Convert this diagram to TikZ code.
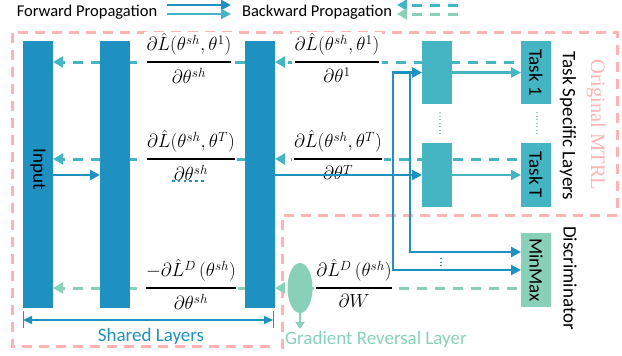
\documentclass[tikz,border=0pt]{standalone}
\usepackage{fix-cm}
\usepackage{amsmath}
\usepackage{fontspec}
\setmainfont{Carlito}
\newfontfamily\mtrlfont{Liberation Serif}
\usetikzlibrary{arrows.meta,shapes.geometric,calc}
\pgfdeclarelayer{back}
\pgfdeclarelayer{mid}
\pgfsetlayers{back,mid,main}
\definecolor{cblue}{HTML}{1F91C0}
\definecolor{cteal}{HTML}{45B5C4}
\definecolor{cgreen}{HTML}{88D1B8}
\definecolor{cpink}{HTML}{FFB3B3}
\newcommand\myfr[2]{\genfrac{}{}{1.8pt}{0}{#1}{#2}}
\begin{document}
\begin{tikzpicture}[x=1pt,y=-1pt,
  layerbox/.style={fill=cblue,minimum width=30pt,minimum height=267pt,inner sep=0pt,outer sep=0pt},
  tsbox/.style={fill=cteal,minimum width=30pt,minimum height=63pt,inner sep=0pt,outer sep=0pt},
  discbox/.style={fill=cgreen,minimum width=30pt,minimum height=74pt,inner sep=0pt,outer sep=0pt},
  lbl/.style={font=\fontsize{19}{22}\selectfont,inner sep=0pt},
  vlbl/.style={lbl,rotate=-90},
  legtxt/.style={font=\fontsize{16.5}{20}\selectfont,inner sep=0pt,anchor=base},
  fwd/.style={draw=cblue,line width=2.5pt,-{Triangle[length=10pt,width=10pt]}},
  fwdt/.style={draw=cteal,line width=2.2pt,-{Triangle[length=10pt,width=10pt]}},
  bwdt/.style={draw=cteal,line width=3pt,dash pattern=on 10pt off 8pt,-{Triangle[length=10pt,width=11pt]}},
  bwdg/.style={draw=cgreen,line width=3pt,dash pattern=on 10pt off 8pt,-{Triangle[length=10pt,width=11pt]}},
  pinkdash/.style={draw=cpink,line width=3pt,dash pattern=on 10pt off 7pt},
  fracnode/.style={fill=white,inner sep=1pt,font=\fontsize{19}{21}\selectfont,anchor=base},
  dotg/.style={draw=cgreen,line width=1.3pt,dash pattern=on 1.3pt off 2.2pt},
  dotb/.style={draw=cblue,line width=1.3pt,dash pattern=on 1.3pt off 2.2pt},
]
\useasboundingbox (0,0) rectangle (622,356);
\clip (0,0) rectangle (622,356);

% legend
\node[legtxt] (lf) at (87,16.5) {Forward Propagation};
\node[legtxt] (lb) at (317,16.5) {Backward Propagation};
\coordinate (fa1) at (167,5);
\coordinate (fa2) at (231,5);
\coordinate (fb1) at (167,14);
\coordinate (fb2) at (231,14);
\draw[fwd] (fa1) -- (fa2);
\draw[fwdt,line width=2.5pt] (fb1) -- (fb2);
\coordinate (ba1) at (458,5);
\coordinate (ba2) at (397,5);
\coordinate (bb1) at (458,14);
\coordinate (bb2) at (397,14);
\draw[bwdt] (ba1) -- (ba2);
\draw[bwdg] (bb1) -- (bb2);

% shared layers
\node[layerbox] (in1) at (38,174.5) {};
\node[layerbox] (sh2) at (115,174.5) {};
\node[layerbox] (sh3) at (260,174.5) {};
\node[vlbl] (intxt) at (38,169) {Input};

% task specific layers
\node[tsbox] (ts1) at (437,72.5) {};
\node[tsbox,minimum height=64pt] (tsT) at (437,175) {};
\node[tsbox] (task1) at (536,72.5) {};
\node[tsbox,minimum height=64pt] (taskT) at (536,175) {};
\node[discbox] (minmax) at (536,270) {};
\node[vlbl] (task1txt) at (task1) {Task 1};
\node[vlbl] (taskTtxt) at (taskT) {Task T};
\node[vlbl] (minmaxtxt) at (minmax) {MinMax};

\node[ellipse,fill=cgreen,minimum width=25pt,minimum height=50pt,inner sep=0pt] (grl) at (300,288) {};

% side labels
\node[vlbl] (tsl) at (568,126) {Task Specific Layers};
\node[vlbl] (disc) at (570,278) {Discriminator};
\node[rotate=-90,inner sep=0pt,text=cpink,font=\mtrlfont\fontsize{20.5}{24}\selectfont] (mtrl) at (596,125) {Original MTRL};

% pink dashed regions
\begin{pgfonlayer}{back}
\draw[pinkdash] (270,346) -- (12,346) -- (12,32) -- (617,32) -- (617,215) -- (282,215) -- (282,365);
\end{pgfonlayer}

% backward rows
\coordinate (r1) at (0,62);
\coordinate (rT) at (0,159);
\coordinate (rD) at (0,288);
\begin{pgfonlayer}{mid}
\draw[bwdt] ($(task1.west |- r1)+(-7,0)$) -- (sh3.east |- r1);
\draw[bwdt] (sh3.west |- r1) -- (in1.east |- r1);
\draw[bwdt] ($(taskT.west |- rT)+(-4,0)$) -- (sh3.east |- rT);
\draw[bwdt] (sh3.west |- rT) -- (in1.east |- rT);
\draw[bwdg] ($(minmax.west |- rD)+(-4,0)$) -- (sh3.east |- rD);
\draw[bwdg] (sh3.west |- rD) -- (in1.east |- rD);
\end{pgfonlayer}

\node[fracnode] (f1) at (189,66.75) {$\myfr{\partial\hat{L}(\theta^{sh},\theta^{1})}{\partial\theta^{sh}}$};
\node[fracnode] (f2) at (337,66.75) {$\myfr{\partial\hat{L}(\theta^{sh},\theta^{1})}{\partial\theta^{1}}$};
\node[fracnode] (f3) at (191,163.75) {$\myfr{\partial\hat{L}(\theta^{sh},\theta^{T})}{\partial\theta^{sh}}$};
\node[fracnode] (f4) at (338,163.75) {$\myfr{\partial\hat{L}(\theta^{sh},\theta^{T})}{\partial\theta^{T}}$};
\node[fracnode] (f5) at (191,292.75) {$\myfr{-\partial\hat{L}^{D}\,(\theta^{sh})}{\partial\theta^{sh}}$};
\node[fracnode] (f6) at (354,292.75) {$\myfr{\partial\hat{L}^{D}\,(\theta^{sh})}{\partial W}$};

% forward
\coordinate (v1) at (393,0);
\coordinate (v2) at (410,0);
\coordinate (m1) at (0,252);
\coordinate (m2) at (0,270);
\draw[fwd] (in1.east |- tsT) -- (sh2.west |- tsT);
\draw[fwd] (sh3.east |- tsT) -- (tsT.west);
\draw[fwd] (v1 |- tsT) -- (v1 |- ts1) -- (ts1.west);
\draw[fwd] (v1 |- tsT) -- (v1 |- m2) -- (minmax.west |- m2);
\draw[fwd] (v2 |- ts1) -- (v2 |- m1) -- (minmax.west |- m1);
\draw[fwdt] (ts1.east) -- (task1.west);
\draw[fwdt] (tsT.east) -- (taskT.west);

% dotted marks
\coordinate (d1a) at (172,181);
\coordinate (d1b) at (206,181);
\draw[draw=cblue,line width=2.5pt,dash pattern=on 2.5pt off 3.3pt] (d1a) -- (d1b);
\draw[dotg] ($(ts1.south)+(3,8)$) -- ($(tsT.north)+(3,-9)$);
\draw[dotg] ($(task1.south)+(1,8)$) -- ($(taskT.north)+(1,-9)$);
\draw[dotb] (441,258) -- (441,267);

% gradient reversal
\coordinate (grlend) at (300,329);
\draw[draw=cgreen,line width=2pt,-{Triangle[length=7pt,width=9pt]}] (grl.south) -- (grlend);
\node[lbl,text=cgreen,anchor=base west] (grltxt) at (285,344) {Gradient Reversal Layer};

% shared layers dimension
\coordinate (sl) at (23,320);
\coordinate (sr) at (273,320);
\draw[draw=cblue,line width=1.5pt,{Triangle[length=9pt,width=8pt]}-{Triangle[length=9pt,width=8pt]}] (sl) -- (sr);
\draw[draw=cblue,line width=1pt] ($(sl)+(0,-9)$) -- ($(sl)+(0,8)$);
\draw[draw=cblue,line width=1pt] ($(sr)+(0,-9)$) -- ($(sr)+(0,8)$);
\node[lbl,text=cblue,anchor=base] (shltxt) at (151,341) {Shared Layers};
\end{tikzpicture}
\end{document}
